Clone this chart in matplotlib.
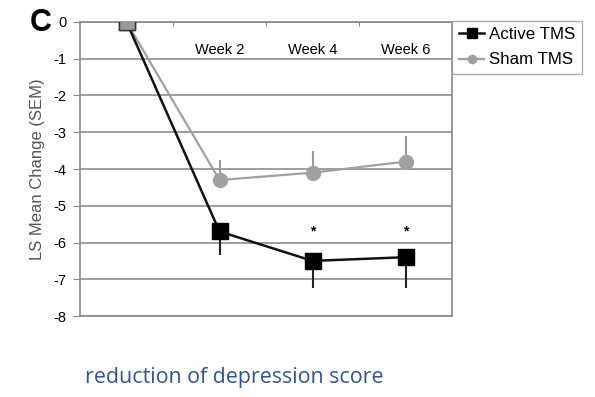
import matplotlib
matplotlib.use("Agg")
import matplotlib.pyplot as plt
import numpy as np

# data
timepoints = ["", "Week 2", "Week 4", "Week 6"]
active_mean = [0, -5.7, -6.5, -6.4]
active_err = [0, 0.65, 0.75, 0.85]      # drawn downward only
sham_mean = [0, -4.3, -4.1, -3.8]
sham_err = [0, 0.55, 0.6, 0.7]          # drawn upward only
star_weeks = ["Week 4", "Week 6"]
star_y = -5.7
yticks = list(range(-8, 1))

x = np.arange(len(timepoints))
plt.rcParams['font.family'] = ['Liberation Sans', 'DejaVu Sans']

fig = plt.figure(figsize=(5.95, 3.97), dpi=100)
ax = fig.add_axes([0.1345, 0.204, 0.6252, 0.7406])

ax.set_xlim(-0.5, len(timepoints) - 0.5)
ax.set_ylim(-8, 0)
ax.set_yticks(yticks)
ax.set_yticklabels([str(v) for v in yticks], fontsize=10.5)
ax.yaxis.grid(True, color='#8c8c8c', lw=1.2)
ax.set_axisbelow(True)

# error bars
ax.errorbar(x, active_mean, yerr=[active_err, np.zeros(len(x))], fmt='none',
            ecolor='#222222', elinewidth=1.5, capsize=0, zorder=3)
ax.errorbar(x, sham_mean, yerr=[np.zeros(len(x)), sham_err], fmt='none',
            ecolor='#999999', elinewidth=1.5, capsize=0, zorder=3)

ax.plot(x, sham_mean, color='#a0a0a0', lw=1.6, marker='o', ms=10,
        mfc='#a0a0a0', mec='#a0a0a0', label='Sham TMS', zorder=4)
ax.plot(x, active_mean, color='#111111', lw=1.8, marker='s', ms=11.5,
        mfc='black', mec='black', label='Active TMS', zorder=5)
# baseline point shared by both groups
ax.plot(x[0], sham_mean[0], marker='s', ms=11.5, mfc='#999999',
        mec='#333333', ls='none', zorder=6)

for wk in star_weeks:
    ax.text(timepoints.index(wk), star_y, '*', ha='center', va='center',
            fontsize=10, fontweight='bold')

# category labels sit just under the top axis line
for i, lab in enumerate(timepoints):
    if lab:
        ax.text(i, -0.95, lab, ha='center', va='bottom', fontsize=10.5)

ax.xaxis.set_ticks_position('top')
ax.set_xticks(x[:-1] + 0.5)
ax.set_xticklabels([])
ax.tick_params(axis='x', direction='in', length=3, color='#888888')
ax.tick_params(axis='y', direction='out', length=5, color='#888888', pad=5)
for s in ax.spines.values():
    s.set_color('#888888')
    s.set_linewidth(1.2)

ax.set_ylabel('LS Mean Change (SEM)', fontsize=12, color='#555555', labelpad=6)

handles, labels = ax.get_legend_handles_labels()
leg = ax.legend(handles[::-1], labels[::-1], loc='upper left',
                bbox_to_anchor=(1.0, 1.005), fontsize=12.2, frameon=True,
                fancybox=False, edgecolor='#999999', handlelength=1.5,
                handletextpad=0.3, borderpad=0.4, labelspacing=0.6,
                markerscale=0.6, borderaxespad=0)

fig.text(0.068, 0.942, 'C', fontsize=22, fontweight='bold', ha='center', va='center')
fig.text(0.143, 0.048, 'reduction of depression score', fontsize=15.4,
         color='#2e5496', family=['Open Sans', 'DejaVu Sans'], ha='left', va='center')

fig.savefig('out.png', dpi=100)
